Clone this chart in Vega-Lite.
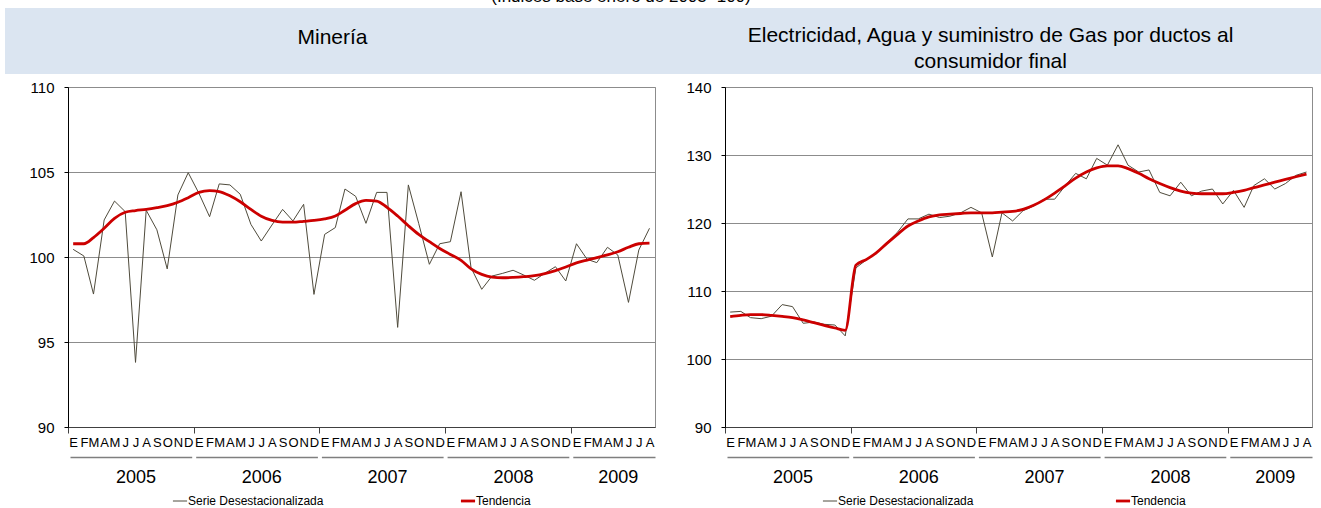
{
"$schema": "https://vega.github.io/schema/vega-lite/v6.json",
"padding": {"left": 5, "top": -12, "right": 0, "bottom": 0},
"background": "white",
"config": {"font": "Liberation Sans", "view": {"stroke": null}},
"title": {"text": "(Índices base enero de 2003=100)", "fontSize": 17, "fontWeight": "normal", "anchor": "middle", "offset": 2, "dx": -42, "color": "black"},
"datasets": {
"mineria": [
{"fecha":"2005-01-16","desest":100.45,"tend":100.78},
{"fecha":"2005-02-16","desest":100.06,"tend":100.78},
{"fecha":"2005-03-16","desest":97.82,"tend":101.14},
{"fecha":"2005-04-16","desest":102.18,"tend":101.69},
{"fecha":"2005-05-16","desest":103.29,"tend":102.27},
{"fecha":"2005-06-16","desest":102.67,"tend":102.63},
{"fecha":"2005-07-16","desest":93.8,"tend":102.73},
{"fecha":"2005-08-16","desest":102.75,"tend":102.8},
{"fecha":"2005-09-16","desest":101.6,"tend":102.9},
{"fecha":"2005-10-16","desest":99.3,"tend":103.02},
{"fecha":"2005-11-16","desest":103.65,"tend":103.22},
{"fecha":"2005-12-16","desest":104.96,"tend":103.49},
{"fecha":"2006-01-16","desest":103.75,"tend":103.8},
{"fecha":"2006-02-16","desest":102.37,"tend":103.9},
{"fecha":"2006-03-16","desest":104.3,"tend":103.85},
{"fecha":"2006-04-16","desest":104.24,"tend":103.6},
{"fecha":"2006-05-16","desest":103.69,"tend":103.25},
{"fecha":"2006-06-16","desest":101.92,"tend":102.8},
{"fecha":"2006-07-16","desest":100.94,"tend":102.4},
{"fecha":"2006-08-16","desest":101.88,"tend":102.15},
{"fecha":"2006-09-16","desest":102.8,"tend":102.05},
{"fecha":"2006-10-16","desest":102.12,"tend":102.05},
{"fecha":"2006-11-16","desest":103.1,"tend":102.1},
{"fecha":"2006-12-16","desest":97.8,"tend":102.15},
{"fecha":"2007-01-16","desest":101.33,"tend":102.24},
{"fecha":"2007-02-16","desest":101.73,"tend":102.41},
{"fecha":"2007-03-16","desest":104.0,"tend":102.75},
{"fecha":"2007-04-16","desest":103.57,"tend":103.14},
{"fecha":"2007-05-16","desest":101.98,"tend":103.33},
{"fecha":"2007-06-16","desest":103.8,"tend":103.29},
{"fecha":"2007-07-16","desest":103.8,"tend":102.92},
{"fecha":"2007-08-16","desest":95.86,"tend":102.41},
{"fecha":"2007-09-16","desest":104.24,"tend":101.84},
{"fecha":"2007-10-16","desest":101.98,"tend":101.33},
{"fecha":"2007-11-16","desest":99.57,"tend":100.9},
{"fecha":"2007-12-16","desest":100.78,"tend":100.5},
{"fecha":"2008-01-16","desest":100.9,"tend":100.15},
{"fecha":"2008-02-16","desest":103.84,"tend":99.8},
{"fecha":"2008-03-16","desest":99.37,"tend":99.3},
{"fecha":"2008-04-16","desest":98.1,"tend":98.98},
{"fecha":"2008-05-16","desest":98.88,"tend":98.82},
{"fecha":"2008-06-16","desest":99.04,"tend":98.78},
{"fecha":"2008-07-16","desest":99.22,"tend":98.8},
{"fecha":"2008-08-16","desest":98.94,"tend":98.84},
{"fecha":"2008-09-16","desest":98.63,"tend":98.9},
{"fecha":"2008-10-16","desest":99.04,"tend":99.02},
{"fecha":"2008-11-16","desest":99.43,"tend":99.2},
{"fecha":"2008-12-16","desest":98.59,"tend":99.41},
{"fecha":"2009-01-16","desest":100.78,"tend":99.65},
{"fecha":"2009-02-16","desest":99.86,"tend":99.82},
{"fecha":"2009-03-16","desest":99.67,"tend":99.96},
{"fecha":"2009-04-16","desest":100.57,"tend":100.12},
{"fecha":"2009-05-16","desest":100.12,"tend":100.31},
{"fecha":"2009-06-16","desest":97.33,"tend":100.57},
{"fecha":"2009-07-16","desest":100.41,"tend":100.78},
{"fecha":"2009-08-16","desest":101.69,"tend":100.82}
],
"electricidad": [
{"fecha":"2005-01-16","desest":106.9,"tend":106.23},
{"fecha":"2005-02-16","desest":107.0,"tend":106.42},
{"fecha":"2005-03-16","desest":106.08,"tend":106.52},
{"fecha":"2005-04-16","desest":105.93,"tend":106.52},
{"fecha":"2005-05-16","desest":106.3,"tend":106.42},
{"fecha":"2005-06-16","desest":108.0,"tend":106.27},
{"fecha":"2005-07-16","desest":107.7,"tend":106.08},
{"fecha":"2005-08-16","desest":105.25,"tend":105.74},
{"fecha":"2005-09-16","desest":105.44,"tend":105.34},
{"fecha":"2005-10-16","desest":105.1,"tend":104.95},
{"fecha":"2005-11-16","desest":105.0,"tend":104.56},
{"fecha":"2005-12-16","desest":103.4,"tend":104.22},
{"fecha":"2006-01-16","desest":113.4,"tend":113.8},
{"fecha":"2006-02-16","desest":114.6,"tend":114.65},
{"fecha":"2006-03-16","desest":115.6,"tend":115.6},
{"fecha":"2006-04-16","desest":117.1,"tend":117.0},
{"fecha":"2006-05-16","desest":118.6,"tend":118.3},
{"fecha":"2006-06-16","desest":120.6,"tend":119.56},
{"fecha":"2006-07-16","desest":120.6,"tend":120.3},
{"fecha":"2006-08-16","desest":121.3,"tend":120.9},
{"fecha":"2006-09-16","desest":120.8,"tend":121.2},
{"fecha":"2006-10-16","desest":121.0,"tend":121.3},
{"fecha":"2006-11-16","desest":121.5,"tend":121.4},
{"fecha":"2006-12-16","desest":122.3,"tend":121.5},
{"fecha":"2007-01-16","desest":121.5,"tend":121.5},
{"fecha":"2007-02-16","desest":115.0,"tend":121.5},
{"fecha":"2007-03-16","desest":121.5,"tend":121.6},
{"fecha":"2007-04-16","desest":120.3,"tend":121.7},
{"fecha":"2007-05-16","desest":121.8,"tend":122.0},
{"fecha":"2007-06-16","desest":122.5,"tend":122.6},
{"fecha":"2007-07-16","desest":123.5,"tend":123.4},
{"fecha":"2007-08-16","desest":123.5,"tend":124.4},
{"fecha":"2007-09-16","desest":125.5,"tend":125.5},
{"fecha":"2007-10-16","desest":127.3,"tend":126.6},
{"fecha":"2007-11-16","desest":126.5,"tend":127.5},
{"fecha":"2007-12-16","desest":129.5,"tend":128.1},
{"fecha":"2008-01-16","desest":128.5,"tend":128.4},
{"fecha":"2008-02-16","desest":131.5,"tend":128.4},
{"fecha":"2008-03-16","desest":128.5,"tend":128.0},
{"fecha":"2008-04-16","desest":127.5,"tend":127.3},
{"fecha":"2008-05-16","desest":127.8,"tend":126.5},
{"fecha":"2008-06-16","desest":124.5,"tend":125.8},
{"fecha":"2008-07-16","desest":124.0,"tend":125.2},
{"fecha":"2008-08-16","desest":126.0,"tend":124.7},
{"fecha":"2008-09-16","desest":124.0,"tend":124.4},
{"fecha":"2008-10-16","desest":124.7,"tend":124.3},
{"fecha":"2008-11-16","desest":125.0,"tend":124.3},
{"fecha":"2008-12-16","desest":122.8,"tend":124.3},
{"fecha":"2009-01-16","desest":124.8,"tend":124.5},
{"fecha":"2009-02-16","desest":122.3,"tend":124.8},
{"fecha":"2009-03-16","desest":125.5,"tend":125.2},
{"fecha":"2009-04-16","desest":126.5,"tend":125.6},
{"fecha":"2009-05-16","desest":125.0,"tend":126.0},
{"fecha":"2009-06-16","desest":125.8,"tend":126.4},
{"fecha":"2009-07-16","desest":127.0,"tend":126.8},
{"fecha":"2009-08-16","desest":127.5,"tend":127.2}
]
},
"resolve": {"scale": {"color": "independent"}, "legend": {"color": "independent"}},
"columns": 1,
"align": "none",
"spacing": 5,
"concat": [
{"hconcat": [
 {"width": 655, "height": 66, "view": {"fill": "#dbe5f1", "stroke": null},
  "data": {"values": [{"titulo": "Minería"}]},
  "mark": {"type": "text", "fontSize": 21, "color": "black", "dy": -3},
  "encoding": {"text": {"field": "titulo", "type": "nominal"}}},
 {"width": 661, "height": 66, "view": {"fill": "#dbe5f1", "stroke": null},
  "data": {"values": [{"titulo": "Electricidad, Agua y suministro de Gas por ductos al\nconsumidor final"}]},
  "mark": {"type": "text", "fontSize": 21, "color": "black", "lineBreak": "\n", "lineHeight": 26, "dy": -5},
  "encoding": {"text": {"field": "titulo", "type": "nominal"}}}
 ], "spacing": 0},
{"resolve": {"scale": {"color": "independent"}, "legend": {"color": "independent"}},
 "spacing": 0,
 "hconcat": [
  {"width": 1, "height": 340, "view": {"stroke": null},
   "data": {"values": [{"vacio": ""}]},
   "mark": {"type": "text"},
   "encoding": {"text": {"field": "vacio", "type": "nominal"}}},
  {"width": 587, "height": 340, "view": {"stroke": "#8c8c8c"},
   "data": {"name": "mineria"},
   "transform": [{"fold": ["desest", "tend"], "as": ["serie", "valor"]}],
   "resolve": {"axis": {"x": "independent"}},
   "encoding": {
    "y": {"field": "valor", "type": "quantitative",
      "scale": {"domain": [90, 110], "nice": false, "zero": false},
      "axis": {"title": null, "values": [90, 95, 100, 105, 110], "grid": true, "gridColor": "#8c8c8c", "domainColor": "black", "tickColor": "black", "tickSize": 4, "labelPadding": 10, "labelFontSize": 15, "labelColor": "black", "minExtent": 61, "maxExtent": 61}},
    "color": {"field": "serie", "type": "nominal",
      "scale": {"domain": ["desest", "tend"], "range": ["#4f4b3c", "#cc0000"]},
      "legend": {"orient": "none", "legendX": 106, "legendY": 408, "direction": "horizontal", "title": null,
        "labelExpr": "datum.value === 'desest' ? 'Serie Desestacionalizada' : 'Tendencia'",
        "labelFontSize": 12, "labelColor": "black", "symbolType": "stroke", "symbolSize": 200, "columnPadding": 131, "labelOffset": 2,
        "encode": {"symbols": {"update": {"strokeWidth": {"signal": "datum.value === 'tend' ? 2.8 : 1"}}}}}}
   },
   "layer": [
    {"transform": [{"filter": "datum.serie === 'desest'"}], "mark": {"type": "line", "strokeWidth": 1},
     "encoding": {"x": {"field": "fecha", "type": "temporal",
      "scale": {"type": "utc", "nice": false, "domain": [{"year":2005,"month":1,"date":1,"utc":true},{"year":2009,"month":9,"date":1,"utc":true}]},
      "axis": {"orient": "bottom", "title": null, "grid": false, "domainColor": "#404040", "tickColor": "#404040", "tickSize": 6,
        "tickOpacity": {"condition": {"test": "utcdate(datum.value) === 1", "value": 1}, "value": 0},
        "labelExpr": "utcdate(datum.value) === 1 ? '' : ['E','F','M','A','M','J','J','A','S','O','N','D'][utcmonth(datum.value)]",
        "labelFontSize": 13, "labelPadding": 3, "labelOverlap": false, "labelBound": false, "labelFlush": false, "labelColor": "black",
        "values": [
{"year":2005,"month":1,"date":1,"utc":true},{"year":2006,"month":1,"date":1,"utc":true},{"year":2007,"month":1,"date":1,"utc":true},{"year":2008,"month":1,"date":1,"utc":true},{"year":2009,"month":1,"date":1,"utc":true},
{"year":2005,"month":1,"date":16,"utc":true},{"year":2005,"month":2,"date":16,"utc":true},{"year":2005,"month":3,"date":16,"utc":true},{"year":2005,"month":4,"date":16,"utc":true},{"year":2005,"month":5,"date":16,"utc":true},{"year":2005,"month":6,"date":16,"utc":true},{"year":2005,"month":7,"date":16,"utc":true},{"year":2005,"month":8,"date":16,"utc":true},{"year":2005,"month":9,"date":16,"utc":true},{"year":2005,"month":10,"date":16,"utc":true},{"year":2005,"month":11,"date":16,"utc":true},{"year":2005,"month":12,"date":16,"utc":true},
{"year":2006,"month":1,"date":16,"utc":true},{"year":2006,"month":2,"date":16,"utc":true},{"year":2006,"month":3,"date":16,"utc":true},{"year":2006,"month":4,"date":16,"utc":true},{"year":2006,"month":5,"date":16,"utc":true},{"year":2006,"month":6,"date":16,"utc":true},{"year":2006,"month":7,"date":16,"utc":true},{"year":2006,"month":8,"date":16,"utc":true},{"year":2006,"month":9,"date":16,"utc":true},{"year":2006,"month":10,"date":16,"utc":true},{"year":2006,"month":11,"date":16,"utc":true},{"year":2006,"month":12,"date":16,"utc":true},
{"year":2007,"month":1,"date":16,"utc":true},{"year":2007,"month":2,"date":16,"utc":true},{"year":2007,"month":3,"date":16,"utc":true},{"year":2007,"month":4,"date":16,"utc":true},{"year":2007,"month":5,"date":16,"utc":true},{"year":2007,"month":6,"date":16,"utc":true},{"year":2007,"month":7,"date":16,"utc":true},{"year":2007,"month":8,"date":16,"utc":true},{"year":2007,"month":9,"date":16,"utc":true},{"year":2007,"month":10,"date":16,"utc":true},{"year":2007,"month":11,"date":16,"utc":true},{"year":2007,"month":12,"date":16,"utc":true},
{"year":2008,"month":1,"date":16,"utc":true},{"year":2008,"month":2,"date":16,"utc":true},{"year":2008,"month":3,"date":16,"utc":true},{"year":2008,"month":4,"date":16,"utc":true},{"year":2008,"month":5,"date":16,"utc":true},{"year":2008,"month":6,"date":16,"utc":true},{"year":2008,"month":7,"date":16,"utc":true},{"year":2008,"month":8,"date":16,"utc":true},{"year":2008,"month":9,"date":16,"utc":true},{"year":2008,"month":10,"date":16,"utc":true},{"year":2008,"month":11,"date":16,"utc":true},{"year":2008,"month":12,"date":16,"utc":true},
{"year":2009,"month":1,"date":16,"utc":true},{"year":2009,"month":2,"date":16,"utc":true},{"year":2009,"month":3,"date":16,"utc":true},{"year":2009,"month":4,"date":16,"utc":true},{"year":2009,"month":5,"date":16,"utc":true},{"year":2009,"month":6,"date":16,"utc":true},{"year":2009,"month":7,"date":16,"utc":true},{"year":2009,"month":8,"date":16,"utc":true}
        ]}}}},
    {"transform": [{"filter": "datum.serie === 'tend'"}], "mark": {"type": "line", "strokeWidth": 2.8, "interpolate": "monotone"},
     "encoding": {"x": {"field": "fecha", "type": "temporal",
      "scale": {"type": "utc", "nice": false, "domain": [{"year":2005,"month":1,"date":1,"utc":true},{"year":2009,"month":9,"date":1,"utc":true}]},
      "axis": {"orient": "bottom", "title": null, "grid": false, "offset": 30, "ticks": false, "tickSize": 0,
        "domain": true, "domainColor": "#7f7f7f", "domainWidth": 1.5, "domainDash": [121.7, 4], "domainDashOffset": 123.7,
        "labelFontSize": 18, "labelPadding": 11, "labelColor": "black", "labelOverlap": false, "labelBound": false, "labelFlush": false,
        "labelExpr": "'' + utcyear(datum.value)",
        "values": [{"year":2005,"month":7,"date":16,"utc":true},{"year":2006,"month":7,"date":16,"utc":true},{"year":2007,"month":7,"date":16,"utc":true},{"year":2008,"month":7,"date":16,"utc":true},{"year":2009,"month":5,"date":16,"utc":true}]}}}}
   ]},
  {"width": 587, "height": 340, "view": {"stroke": "#8c8c8c"},
   "data": {"name": "electricidad"},
   "transform": [{"fold": ["desest", "tend"], "as": ["serie", "valor"]}],
   "resolve": {"axis": {"x": "independent"}},
   "encoding": {
    "y": {"field": "valor", "type": "quantitative",
      "scale": {"domain": [90, 140], "nice": false, "zero": false},
      "axis": {"title": null, "values": [90, 100, 110, 120, 130, 140], "grid": true, "gridColor": "#8c8c8c", "domainColor": "black", "tickColor": "black", "tickSize": 4, "labelPadding": 10, "labelFontSize": 15, "labelColor": "black", "minExtent": 68, "maxExtent": 68}},
    "color": {"field": "serie", "type": "nominal",
      "scale": {"domain": ["desest", "tend"], "range": ["#4f4b3c", "#cc0000"]},
      "legend": {"orient": "none", "legendX": 99, "legendY": 408, "direction": "horizontal", "title": null,
        "labelExpr": "datum.value === 'desest' ? 'Serie Desestacionalizada' : 'Tendencia'",
        "labelFontSize": 12, "labelColor": "black", "symbolType": "stroke", "symbolSize": 200, "columnPadding": 136, "labelOffset": 2,
        "encode": {"symbols": {"update": {"strokeWidth": {"signal": "datum.value === 'tend' ? 2.8 : 1"}}}}}}
   },
   "layer": [
    {"transform": [{"filter": "datum.serie === 'desest'"}], "mark": {"type": "line", "strokeWidth": 1},
     "encoding": {"x": {"field": "fecha", "type": "temporal",
      "scale": {"type": "utc", "nice": false, "domain": [{"year":2005,"month":1,"date":1,"utc":true},{"year":2009,"month":9,"date":1,"utc":true}]},
      "axis": {"orient": "bottom", "title": null, "grid": false, "domainColor": "#404040", "tickColor": "#404040", "tickSize": 6,
        "tickOpacity": {"condition": {"test": "utcdate(datum.value) === 1", "value": 1}, "value": 0},
        "labelExpr": "utcdate(datum.value) === 1 ? '' : ['E','F','M','A','M','J','J','A','S','O','N','D'][utcmonth(datum.value)]",
        "labelFontSize": 13, "labelPadding": 3, "labelOverlap": false, "labelBound": false, "labelFlush": false, "labelColor": "black",
        "values": [
{"year":2005,"month":1,"date":1,"utc":true},{"year":2006,"month":1,"date":1,"utc":true},{"year":2007,"month":1,"date":1,"utc":true},{"year":2008,"month":1,"date":1,"utc":true},{"year":2009,"month":1,"date":1,"utc":true},
{"year":2005,"month":1,"date":16,"utc":true},{"year":2005,"month":2,"date":16,"utc":true},{"year":2005,"month":3,"date":16,"utc":true},{"year":2005,"month":4,"date":16,"utc":true},{"year":2005,"month":5,"date":16,"utc":true},{"year":2005,"month":6,"date":16,"utc":true},{"year":2005,"month":7,"date":16,"utc":true},{"year":2005,"month":8,"date":16,"utc":true},{"year":2005,"month":9,"date":16,"utc":true},{"year":2005,"month":10,"date":16,"utc":true},{"year":2005,"month":11,"date":16,"utc":true},{"year":2005,"month":12,"date":16,"utc":true},
{"year":2006,"month":1,"date":16,"utc":true},{"year":2006,"month":2,"date":16,"utc":true},{"year":2006,"month":3,"date":16,"utc":true},{"year":2006,"month":4,"date":16,"utc":true},{"year":2006,"month":5,"date":16,"utc":true},{"year":2006,"month":6,"date":16,"utc":true},{"year":2006,"month":7,"date":16,"utc":true},{"year":2006,"month":8,"date":16,"utc":true},{"year":2006,"month":9,"date":16,"utc":true},{"year":2006,"month":10,"date":16,"utc":true},{"year":2006,"month":11,"date":16,"utc":true},{"year":2006,"month":12,"date":16,"utc":true},
{"year":2007,"month":1,"date":16,"utc":true},{"year":2007,"month":2,"date":16,"utc":true},{"year":2007,"month":3,"date":16,"utc":true},{"year":2007,"month":4,"date":16,"utc":true},{"year":2007,"month":5,"date":16,"utc":true},{"year":2007,"month":6,"date":16,"utc":true},{"year":2007,"month":7,"date":16,"utc":true},{"year":2007,"month":8,"date":16,"utc":true},{"year":2007,"month":9,"date":16,"utc":true},{"year":2007,"month":10,"date":16,"utc":true},{"year":2007,"month":11,"date":16,"utc":true},{"year":2007,"month":12,"date":16,"utc":true},
{"year":2008,"month":1,"date":16,"utc":true},{"year":2008,"month":2,"date":16,"utc":true},{"year":2008,"month":3,"date":16,"utc":true},{"year":2008,"month":4,"date":16,"utc":true},{"year":2008,"month":5,"date":16,"utc":true},{"year":2008,"month":6,"date":16,"utc":true},{"year":2008,"month":7,"date":16,"utc":true},{"year":2008,"month":8,"date":16,"utc":true},{"year":2008,"month":9,"date":16,"utc":true},{"year":2008,"month":10,"date":16,"utc":true},{"year":2008,"month":11,"date":16,"utc":true},{"year":2008,"month":12,"date":16,"utc":true},
{"year":2009,"month":1,"date":16,"utc":true},{"year":2009,"month":2,"date":16,"utc":true},{"year":2009,"month":3,"date":16,"utc":true},{"year":2009,"month":4,"date":16,"utc":true},{"year":2009,"month":5,"date":16,"utc":true},{"year":2009,"month":6,"date":16,"utc":true},{"year":2009,"month":7,"date":16,"utc":true},{"year":2009,"month":8,"date":16,"utc":true}
        ]}}}},
    {"transform": [{"filter": "datum.serie === 'tend'"}], "mark": {"type": "line", "strokeWidth": 2.8, "interpolate": "monotone"},
     "encoding": {"x": {"field": "fecha", "type": "temporal",
      "scale": {"type": "utc", "nice": false, "domain": [{"year":2005,"month":1,"date":1,"utc":true},{"year":2009,"month":9,"date":1,"utc":true}]},
      "axis": {"orient": "bottom", "title": null, "grid": false, "offset": 30, "ticks": false, "tickSize": 0,
        "domain": true, "domainColor": "#7f7f7f", "domainWidth": 1.5, "domainDash": [121.7, 4], "domainDashOffset": 123.7,
        "labelFontSize": 18, "labelPadding": 11, "labelColor": "black", "labelOverlap": false, "labelBound": false, "labelFlush": false,
        "labelExpr": "'' + utcyear(datum.value)",
        "values": [{"year":2005,"month":7,"date":16,"utc":true},{"year":2006,"month":7,"date":16,"utc":true},{"year":2007,"month":7,"date":16,"utc":true},{"year":2008,"month":7,"date":16,"utc":true},{"year":2009,"month":5,"date":16,"utc":true}]}}}}
   ]}
 ]}
]
}
